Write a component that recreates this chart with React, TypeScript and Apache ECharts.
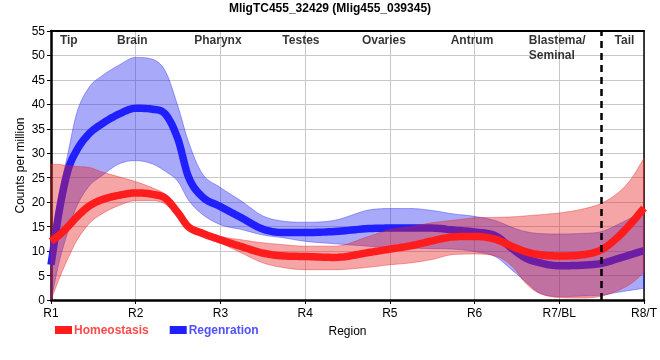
import React, { useEffect, useRef } from 'react';
import * as echarts from 'echarts';

// Sample positions along the region axis (1 = R1 ... 8 = R8/T)
const xs = [1, 1.1, 1.2, 1.3, 1.45, 1.6, 1.8, 2, 2.2, 2.35, 2.5, 2.62, 2.78, 3, 3.25, 3.5, 3.75, 4, 4.35, 4.75, 5, 5.25, 5.5, 5.75, 6, 6.25, 6.45, 6.6, 6.75, 7, 7.25, 7.5, 7.7, 7.85, 8];

const homeoMean = [12.0, 13.3, 15.0, 16.9, 19.2, 20.5, 21.4, 21.9, 21.6, 20.8, 17.8, 15.0, 13.7, 12.3, 10.9, 9.6, 9.0, 8.9, 8.7, 9.7, 10.4, 11.1, 12.1, 12.9, 13.0, 12.4, 10.9, 9.9, 9.3, 9.0, 9.2, 10.3, 13.0, 15.7, 18.8];
const homeoHigh = [27.8, 27.7, 27.5, 27.3, 27.1, 26.2, 25.2, 24.2, 22.9, 21.6, 18.6, 15.7, 14.3, 13.0, 12.3, 11.7, 11.3, 11.0, 11.0, 13.0, 14.4, 15.0, 15.8, 16.3, 16.8, 16.9, 17.0, 17.2, 17.4, 17.8, 18.5, 19.8, 22.0, 24.8, 29.0];
const homeoLow = [0, 4.5, 8.5, 12.0, 15.6, 17.6, 19.3, 20.3, 20.3, 19.6, 17.0, 14.3, 12.9, 11.6, 9.6, 7.6, 6.6, 6.2, 6.2, 6.7, 7.2, 7.6, 8.3, 9.3, 9.4, 9.0, 6.8, 3.5, 1.5, 0.5, 0.4, 0.8, 2.0, 3.4, 5.6];

const regenMean = [7.2, 18.5, 26.5, 30.5, 34.0, 36.0, 38.0, 39.2, 39.0, 38.0, 32.8, 25.3, 21.2, 19.1, 16.8, 14.5, 13.8, 13.8, 14.0, 14.6, 14.7, 14.7, 14.7, 14.3, 13.9, 13.1, 10.4, 8.6, 7.7, 7.0, 7.1, 7.5, 8.5, 9.3, 10.1];
const regenHigh = [12, 22, 30, 38, 43.5, 45.8, 48, 49.6, 49.2, 46.8, 39.5, 32.5, 26, 23, 20.2, 17.2, 16.1, 15.9, 16.3, 18.4, 18.7, 18.7, 18.3, 17.6, 17.1, 16.2, 14.8, 14.0, 13.6, 13.5, 13.6, 14.0, 15.5, 16.8, 18.1];
const regenLow = [0, 8, 14, 19, 23.3, 25.4, 27.8, 28.5, 27.8, 26.3, 24.2, 20.5, 17.6, 15.4, 14.4, 13.3, 12.7, 12.0, 11.5, 11.0, 10.7, 10.6, 10.5, 10.4, 9.9, 8.8, 6.0, 3.8, 1.6, 0.7, 0.8, 1.0, 1.6, 2.0, 2.4];

const xTickLabels = ['R1', 'R2', 'R3', 'R4', 'R5', 'R6', 'R7/BL', 'R8/T'];

const regionNames = ['Tip', 'Brain', 'Pharynx', 'Testes', 'Ovaries', 'Antrum', 'Blastema/\nSeminal', 'Tail'];
const regionX = [1.21, 1.96, 2.97, 3.95, 4.93, 5.97, 6.64, 7.77];
const regionAlign = ['center', 'center', 'center', 'center', 'center', 'center', 'left', 'center'];
const regionLabelY = 54.6;
const tailBoundary = 7.5;

const FONT = 'Arial, "Liberation Sans", sans-serif';

function densify(p: number[][], steps = 10): number[][] {
  const n = p.length;
  const d: number[] = [];
  for (let i = 0; i < n - 1; i++) d.push((p[i + 1][1] - p[i][1]) / (p[i + 1][0] - p[i][0]));
  const m: number[] = [];
  for (let i = 0; i < n; i++) {
    if (i === 0) m.push(d[0]);
    else if (i === n - 1) m.push(d[n - 2]);
    else if (d[i - 1] * d[i] <= 0) m.push(0);
    else m.push((d[i - 1] + d[i]) / 2);
  }
  for (let i = 0; i < n - 1; i++) {
    if (d[i] === 0) { m[i] = 0; m[i + 1] = 0; continue; }
    const a = m[i] / d[i], b = m[i + 1] / d[i];
    const s = a * a + b * b;
    if (s > 9) { const t = 3 / Math.sqrt(s); m[i] = t * a * d[i]; m[i + 1] = t * b * d[i]; }
  }
  const out: number[][] = [];
  for (let i = 0; i < n - 1; i++) {
    const [x0, y0] = p[i];
    const [x1, y1] = p[i + 1];
    const h = x1 - x0;
    for (let k = 0; k < steps; k++) {
      const t = k / steps, t2 = t * t, t3 = t2 * t;
      const y = (2 * t3 - 3 * t2 + 1) * y0 + (t3 - 2 * t2 + t) * h * m[i] + (-2 * t3 + 3 * t2) * y1 + (t3 - t2) * h * m[i + 1];
      out.push([x0 + h * t, y]);
    }
  }
  out.push(p[n - 1]);
  return out;
}

function bandRenderer(color: string) {
  return (params: any, api: any) => {
    if (params.dataIndexInside !== 0) return null;
    const n = params.dataInsideLength;
    const up: number[][] = [];
    const lo: number[][] = [];
    for (let i = 0; i < n; i++) {
      const x = api.value(0, i);
      up.push(api.coord([x, api.value(2, i)]));
      lo.push(api.coord([x, api.value(1, i)]));
    }
    const pts = densify(up).concat(densify(lo).reverse());
    return {
      type: 'polygon',
      shape: { points: pts },
      style: { fill: color, stroke: color, lineWidth: 1 },
      silent: true,
    };
  };
}

function lineRenderer(color: string, width: number) {
  return (params: any, api: any) => {
    if (params.dataIndexInside !== 0) return null;
    const n = params.dataInsideLength;
    const pts: number[][] = [];
    for (let i = 0; i < n; i++) {
      pts.push(api.coord([api.value(0, i), api.value(1, i)]));
    }
    return {
      type: 'polyline',
      shape: { points: densify(pts) },
      style: { fill: null, stroke: color, lineWidth: width, lineJoin: 'round' },
      silent: true,
    };
  };
}

const RED_BAND = 'rgba(230,30,30,0.4)';
const BLUE_BAND = 'rgba(40,40,240,0.4)';
const RED_LINE = '#ff1c1c';
const BLUE_LINE = '#1f1fff';

export default function App() {
  const ref = useRef<HTMLDivElement>(null);
  useEffect(() => {
    const chart = echarts.init(ref.current!, undefined, { renderer: 'svg' });
    const option: any = {
      animation: false,
      textStyle: { fontFamily: FONT },
      title: {
        text: 'MligTC455_32429 (Mlig455_039345)',
        left: 'center',
        top: 2,
        padding: 0,
        textStyle: { fontSize: 12, fontWeight: 'bold', color: '#000', fontFamily: FONT },
      },
      legend: {
        left: 55,
        top: 324,
        padding: 0,
        icon: 'rect',
        itemWidth: 17,
        itemHeight: 8,
        itemGap: 21,
        textStyle: { fontSize: 12, fontWeight: 'bold', fontFamily: FONT, padding: [0, 0, 0, -3] },
        data: [
          { name: 'Homeostasis', textStyle: { color: '#ff4a4a' } },
          { name: 'Regenration', textStyle: { color: '#5050ff' } },
        ],
      },
      grid: { left: 51, right: 9, top: 31, bottom: 60 },
      xAxis: [
        {
          type: 'value',
          min: 1,
          max: 8,
          interval: 1,
          name: 'Region',
          nameLocation: 'middle',
          nameGap: 25,
          nameMoveOverlap: false,
          nameTextStyle: { fontSize: 12, color: '#000', fontFamily: FONT },
          axisLine: { show: true, onZero: false, lineStyle: { color: '#000', width: 2.5 } },
          axisTick: { show: true, length: 4, lineStyle: { color: '#000', width: 1 } },
          axisLabel: {
            fontSize: 12,
            color: '#000',
            margin: 7,
            formatter: (v: number) => xTickLabels[Math.round(v) - 1] ?? '',
          },
          splitLine: { show: true, lineStyle: { color: '#c8c8c8', width: 1 } },
        },
        {
          type: 'value',
          min: 1,
          max: 8,
          position: 'top',
          axisLine: { show: true, onZero: false, lineStyle: { color: '#000', width: 2 } },
          axisTick: { show: false },
          axisLabel: { show: false },
          splitLine: { show: false },
        },
      ],
      yAxis: [
        {
          type: 'value',
          min: 0,
          max: 55,
          interval: 5,
          name: 'Counts per million',
          nameLocation: 'middle',
          nameGap: 25,
          nameMoveOverlap: false,
          nameTextStyle: { fontSize: 12, color: '#000', fontFamily: FONT },
          axisLine: { show: true, onZero: false, lineStyle: { color: '#000', width: 2.5 } },
          axisTick: { show: true, length: 4, lineStyle: { color: '#000', width: 1 } },
          axisLabel: { fontSize: 12, color: '#000', margin: 6 },
          splitLine: { show: true, lineStyle: { color: '#c8c8c8', width: 1 } },
        },
        {
          type: 'value',
          min: 0,
          max: 55,
          position: 'right',
          axisLine: { show: true, onZero: false, lineStyle: { color: '#000', width: 1.5 } },
          axisTick: { show: false },
          axisLabel: { show: false },
          splitLine: { show: false },
        },
      ],
      series: [
        {
          type: 'custom',
          name: 'RegenBand',
          z: 1,
          renderItem: bandRenderer(BLUE_BAND),
          encode: { x: 0, y: [1, 2] },
          data: xs.map((x, i) => [x, regenLow[i], regenHigh[i]]),
          silent: true,
        },
        {
          type: 'custom',
          name: 'Regenration',
          z: 2,
          renderItem: lineRenderer(BLUE_LINE, 7.5),
          encode: { x: 0, y: 1 },
          data: xs.map((x, i) => [x, regenMean[i]]),
          color: BLUE_LINE,
          itemStyle: { color: BLUE_LINE },
          silent: true,
        },
        {
          type: 'custom',
          name: 'HomeoBand',
          z: 3,
          renderItem: bandRenderer(RED_BAND),
          encode: { x: 0, y: [1, 2] },
          data: xs.map((x, i) => [x, homeoLow[i], homeoHigh[i]]),
          silent: true,
        },
        {
          type: 'custom',
          name: 'Homeostasis',
          z: 4,
          renderItem: lineRenderer(RED_LINE, 7.5),
          encode: { x: 0, y: 1 },
          data: xs.map((x, i) => [x, homeoMean[i]]),
          color: RED_LINE,
          itemStyle: { color: RED_LINE },
          silent: true,
        },
        {
          type: 'scatter',
          name: 'Regions',
          z: 10,
          symbolSize: 0,
          itemStyle: { color: 'transparent' },
          silent: true,
          data: regionNames.map((nm, i) => ({
            name: nm,
            value: [regionX[i], regionLabelY],
            label: { align: regionAlign[i] },
          })),
          label: {
            show: true,
            position: [0, 0],
            align: 'center',
            verticalAlign: 'top',
            formatter: '{b}',
            fontSize: 12,
            fontWeight: 'bold',
            color: '#000',
            lineHeight: 15,
            fontFamily: FONT,
          },
          markLine: {
            silent: true,
            symbol: ['none', 'none'],
            label: { show: false },
            lineStyle: { color: '#000', type: [7, 5], width: 2.5 },
            data: [{ xAxis: tailBoundary }],
          },
        },
      ],
    };
    chart.setOption(option);
    return () => chart.dispose();
  }, []);
  return <div ref={ref} style={{ position: 'fixed', left: 0, top: 0, width: 660, height: 360 }} />;
}
